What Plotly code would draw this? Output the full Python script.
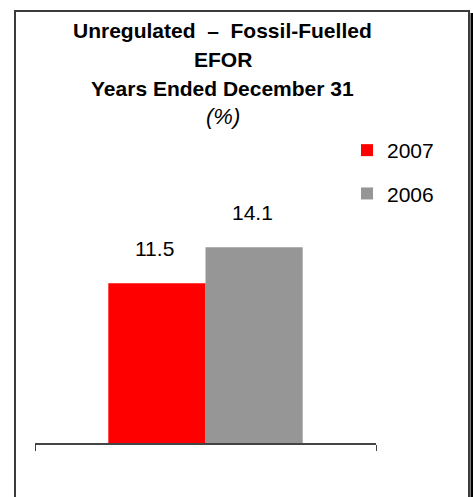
import plotly.graph_objects as go

# Data
category = ["EFOR"]
years = ["2007", "2006"]
values = [11.5, 14.1]
colors = ["#ff0000", "#969696"]
title_lines = [
    "<b>Unregulated  \u2013  Fossil-Fuelled</b>",
    "<b>EFOR</b>",
    "<b>Years Ended December 31</b>",
    "<i>(%)</i>",
]

W, H = 473, 497
L, R, T, B = 35, 97, 193, 54
PW, PH = W - L - R, H - T - B
Y_MAX = 18.0
BARGAP = 0.43


def px_x(px):
    return (px - L) / PW


def px_y(py):
    return (H - B - py) / PH


FONT = "Liberation Sans, Arial, sans-serif"

fig = go.Figure()
for yr, v, c in zip(years, values, colors):
    fig.add_trace(go.Bar(x=category, y=[v], name=yr, marker=dict(color=c, line=dict(width=0)),
                         legendgroup=yr))

# value labels above bars
bar_w = (1 - BARGAP) / len(years)
for i, v in enumerate(values):
    xc = -0.5 * (1 - BARGAP) + bar_w * (i + 0.5)
    fig.add_annotation(x=xc, y=v, xref="x", yref="y", text=f"{v:.1f}", showarrow=False,
                       yanchor="middle", yshift=35, xshift=-2,
                       font=dict(size=21, color="#000000", family=FONT))

title_y = [30, 59, 88, 117]
title_size = [21, 21, 21, 22]
for txt, ty, fs in zip(title_lines, title_y, title_size):
    fig.add_annotation(x=px_x(223), y=px_y(ty), xref="paper", yref="paper", text=txt,
                       showarrow=False, xanchor="center", yanchor="middle",
                       font=dict(size=fs, color="#000000", family=FONT))

# frame with a dark edge on the right
fig.add_shape(type="rect", xref="paper", yref="paper", x0=px_x(15), x1=px_x(469),
              y0=px_y(11), y1=px_y(520), line=dict(color="#3c3c3c", width=2))
fig.add_shape(type="rect", xref="paper", yref="paper", x0=px_x(470.5), x1=px_x(474),
              y0=px_y(13), y1=px_y(520), line=dict(width=0), fillcolor="#000000")

fig.update_layout(
    width=W, height=H,
    margin=dict(l=L, r=R, t=T, b=B),
    paper_bgcolor="white", plot_bgcolor="white",
    barmode="group", bargap=BARGAP, bargroupgap=0,
    showlegend=True,
    legend=dict(x=px_x(347), y=px_y(130), xanchor="left", yanchor="top",
                font=dict(size=21, color="#000000", family=FONT),
                traceorder="grouped", tracegroupgap=13, bgcolor="rgba(0,0,0,0)"),
    xaxis=dict(showline=True, linecolor="#444444", linewidth=1.5, ticks="outside",
               tickson="boundaries", ticklen=6, tickcolor="#444444", showticklabels=False,
               showgrid=False, zeroline=False, range=[-0.5, 0.5]),
    yaxis=dict(range=[0, Y_MAX], visible=False, showgrid=False, zeroline=False),
)

fig.write_html("out.html")
